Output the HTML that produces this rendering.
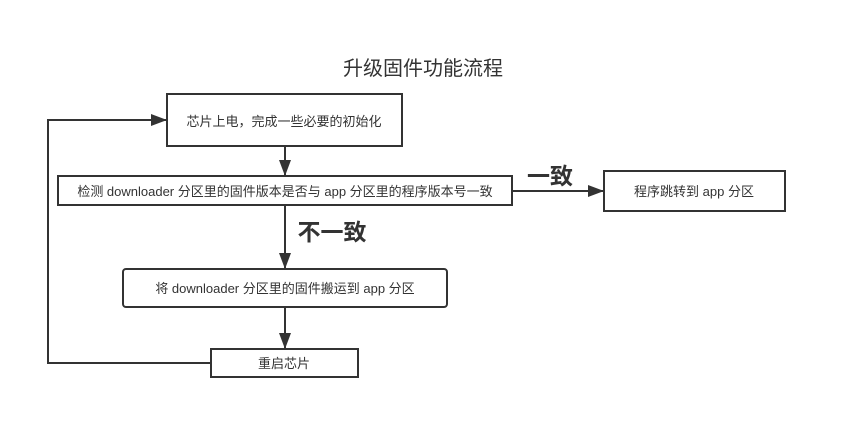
<!DOCTYPE html>
<html><head><meta charset="utf-8"><style>
body{margin:0;background:#fff;}
svg text{font-family:"Liberation Sans","Noto Sans CJK SC",sans-serif;fill:#333;}
</style></head><body>
<svg width="847" height="439" xmlns="http://www.w3.org/2000/svg">
<defs><marker id="a" markerWidth="10" markerHeight="10" refX="9" refY="5" orient="auto" markerUnits="userSpaceOnUse"><path d="M0,0 L10,5 L0,10 z" fill="#333"/></marker>
<marker id="b" markerWidth="16" markerHeight="12" refX="15" refY="6" orient="auto" markerUnits="userSpaceOnUse"><path d="M0,0 L16,6 L0,12 z" fill="#333"/></marker></defs>
<text x="423" y="75" font-size="20" text-anchor="middle">升级固件功能流程</text>
<g fill="none" stroke="#333" stroke-width="2">
<rect x="167" y="94" width="235" height="52"/>
<rect x="58" y="176" width="454" height="29"/>
<rect x="123" y="269" width="324" height="38" rx="3"/>
<rect x="211" y="349" width="147" height="28"/>
<rect x="604" y="171" width="181" height="40"/>
<path d="M285 146 V175" marker-end="url(#b)"/>
<path d="M285 205 V268" marker-end="url(#b)"/>
<path d="M285 307 V348" marker-end="url(#b)"/>
<path d="M512 191 H603" marker-end="url(#b)"/>
<path d="M211 363 H48 V120 H166" marker-end="url(#b)"/>
</g>
<text x="284" y="126" font-size="13" text-anchor="middle">芯片上电，完成一些必要的初始化</text>
<text x="285" y="196" font-size="13" text-anchor="middle">检测 downloader 分区里的固件版本是否与 app 分区里的程序版本号一致</text>
<text x="285" y="293" font-size="13" text-anchor="middle">将 downloader 分区里的固件搬运到 app 分区</text>
<text x="284" y="368" font-size="13" text-anchor="middle">重启芯片</text>
<text x="694" y="196" font-size="13" text-anchor="middle">程序跳转到 app 分区</text>
<text x="550" y="184" font-size="23" font-weight="bold" text-anchor="middle">一致</text>
<text x="332" y="240" font-size="23" font-weight="bold" text-anchor="middle">不一致</text>
</svg>
</body></html>
